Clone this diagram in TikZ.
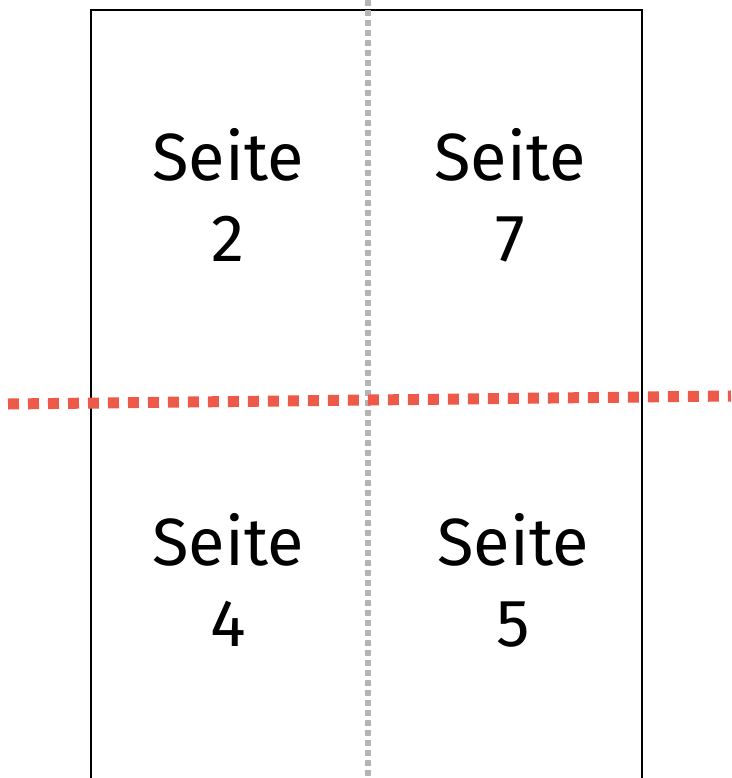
\documentclass[tikz,border=0pt]{standalone}
\usepackage{fontspec}
\setmainfont{Fira Sans}
\usetikzlibrary{positioning}
\definecolor{foldgrey}{HTML}{B4B4B4}
\definecolor{cutred}{HTML}{EE5A4A}
\tikzset{
  pagelabel/.style={align=center, font=\fontsize{38}{46}\selectfont},
  foldline/.style={foldgrey, line width=0.11cm, dash pattern=on 0.12cm off 0.08cm},
  cutline/.style={cutred, line width=0.22cm, dash pattern=on 0.22cm off 0.18cm}
}

\begin{document}
\begin{tikzpicture}[x=0.02cm, y=-0.02cm]
  \useasboundingbox (0,0) rectangle (731,778);
  \begin{scope}
    \clip (0,0) rectangle (731,778);
    \draw[line width=1.1pt] (91,820) -- (91,10) -- (642,10) -- (642,820);
    \draw[foldline] (368,0) -- (368,778);
    \draw[cutline] (8,404) -- (731,396);
  \end{scope}
  \node[pagelabel] (seite2) at (228,195) {Seite\\2};
  \node[pagelabel] (seite7) at (510,195) {Seite\\7};
  \node[pagelabel] (seite4) at (228,580) {Seite\\4};
  \node[pagelabel] (seite5) at (513,580) {Seite\\5};
\end{tikzpicture}
\end{document}
